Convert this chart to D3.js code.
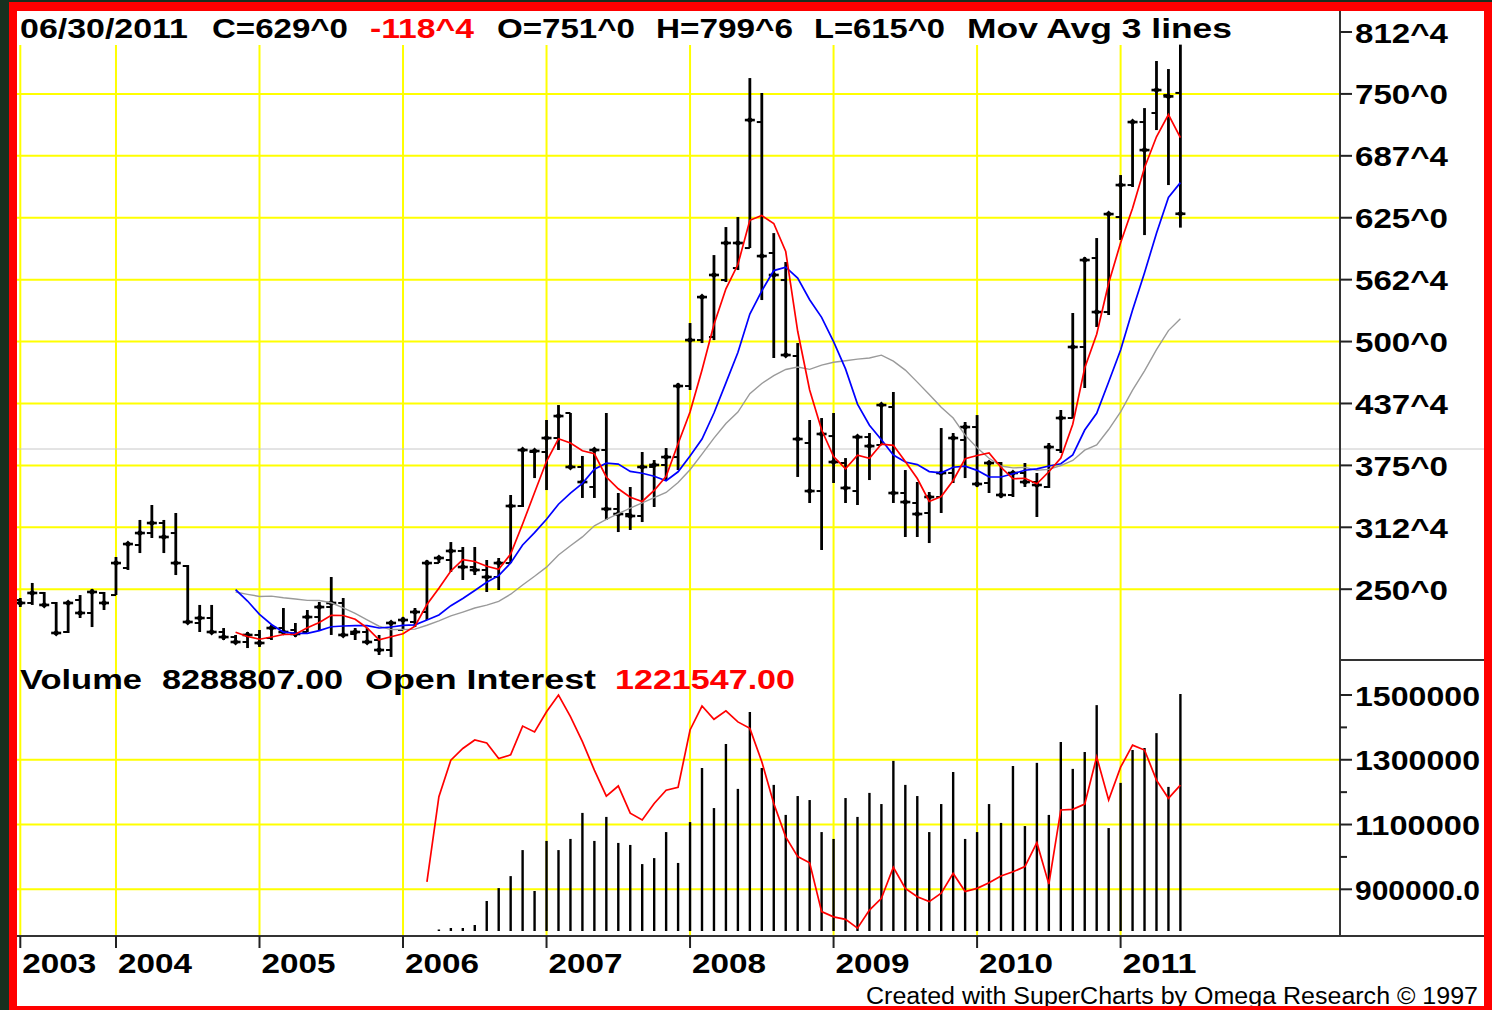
<!DOCTYPE html>
<html>
<head>
<meta charset="utf-8">
<script src="https://cdn.jsdelivr.net/npm/d3@7"></script>
<style>
html, body { margin: 0; padding: 0; background: #17301f; }
svg { display: block; }
text { font-family: "Liberation Sans", Arial, sans-serif; }
</style>
</head>
<body>
<svg id="chart" width="1492" height="1010"></svg>
<script>

// monthly bars, May 2003 .. Jun 2011
var months = d3.timeMonth.range(new Date(2003, 4, 1), new Date(2011, 6, 1));

var opens = [239.1,236.1,246.2,236.1,206.8,239.1,226.0,246.2,244.1,271.4,
	294.6,306.7,316.8,306.7,273.4,215.9,220.9,206.8,201.7,196.7,
	203.8,200.7,210.8,208.8,206.8,221.9,232.0,236.1,204.8,206.8,
	198.7,188.6,208.8,216.9,227.0,276.4,279.5,288.6,272.4,269.4,
	262.3,276.4,334.0,388.5,388.5,402.6,427.9,373.4,353.2,390.5,
	331.0,325.9,323.9,373.4,375.4,383.4,455.1,501.5,504.6,562.1,
	574.2,594.4,721.6,589.4,562.1,485.4,397.6,349.1,404.6,377.4,
	349.1,403.6,395.6,433.9,347.1,337.0,326.9,343.1,367.3,400.6,
	413.7,357.2,377.4,345.1,367.3,358.2,353.2,390.5,422.8,494.5,
	584.3,529.8,625.7,658.0,721.6,730.7,748.8,751.0];

var highs = [241.1,256.3,247.2,237.1,236.1,244.1,250.2,247.2,282.5,296.6,
	319.9,335.0,319.9,326.9,274.4,234.1,234.1,210.8,203.8,206.8,
	208.8,213.9,231.0,215.9,229.0,237.1,262.3,241.1,210.8,210.8,
	203.8,216.9,222.0,231.0,279.5,283.5,297.6,292.6,292.6,279.5,
	281.5,345.1,390.5,390.5,420.8,435.9,427.9,384.5,392.5,427.9,
	347.1,353.2,388.5,380.4,392.5,458.1,518.7,545.0,587.3,615.6,
	625.7,766.0,750.9,609.5,580.3,498.5,420.8,422.8,427.9,382.4,
	405.6,407.7,437.9,449.1,370.3,358.2,348.1,412.7,407.7,418.8,
	425.8,378.4,378.4,368.3,377.4,367.3,397.6,430.9,528.8,585.3,
	604.5,629.7,668.1,723.6,735.7,783.2,775.1,799.75];

var lows = [232.0,234.1,232.0,203.8,205.8,220.9,211.8,229.0,244.1,269.4,
	286.5,301.7,286.5,264.3,215.9,206.8,206.8,198.7,195.7,190.6,
	191.7,198.7,203.8,201.7,206.8,208.8,203.8,203.8,198.7,195.7,
	183.6,181.6,208.8,211.8,218.9,276.4,267.4,259.3,264.3,247.2,
	249.2,276.4,333.0,362.2,350.1,390.5,372.3,342.1,342.1,319.9,
	307.7,309.8,317.8,333.0,360.2,370.3,451.1,498.5,501.5,560.1,
	572.2,594.4,541.9,483.4,485.4,363.3,337.0,289.6,357.2,337.0,
	335.0,360.2,395.6,337.0,302.7,302.7,296.6,326.9,357.2,362.2,
	353.2,347.1,342.1,343.1,353.2,322.9,352.2,387.5,422.8,453.1,
	514.7,526.8,602.5,656.0,607.5,713.5,658.0,615.0];

var closes = [236.1,246.2,234.1,205.8,236.1,226.0,247.2,236.1,276.4,295.6,
	306.7,316.8,302.7,276.4,216.9,220.9,206.8,201.7,196.7,203.8,
	195.7,210.8,206.8,204.8,221.9,232.0,236.1,203.8,206.8,196.7,
	188.6,215.9,218.9,227.0,276.4,281.5,288.6,272.4,269.4,262.3,
	276.4,334.0,390.5,389.5,402.6,424.8,373.4,358.2,390.5,331.0,
	325.9,323.9,373.4,375.4,383.4,455.1,501.5,544.9,567.2,599.5,
	599.5,723.6,586.3,567.2,486.4,401.6,349.1,406.7,378.4,352.2,
	403.6,394.5,435.9,347.1,338.0,325.9,343.1,367.3,402.6,413.7,
	356.2,377.4,345.1,367.3,358.2,355.2,393.5,422.8,494.5,582.3,
	529.8,628.7,658.0,721.6,693.3,753.9,747.5,629.0];

// volume starts Apr 2006 (bar 35), open interest starts Mar 2006 (bar 34)
var VOLUME_FIRST = 35;
var volumes = [35000,105000,105000,210000,1050000,1500000,1920000,2830000,1400000,3150000,
	2830000,3220000,4130000,3150000,3990000,3080000,3010000,2340000,2550000,3460000,
	2380000,3810000,5700000,4300000,6540000,4970000,7660000,5700000,5110000,4060000,
	4720000,4580000,3460000,3220000,4650000,3990000,4830000,4440000,5950000,5110000,
	4720000,3460000,4440000,5560000,3220000,3460000,4440000,3780000,5770000,3670000,
	5880000,4060000,6610000,5670000,6260000,7900000,3600000,5180000,6330000,6400000,
	6920000,5040000,8288807];

var OI_FIRST = 34;
var openInterest = [923000,1186000,1299000,1335000,1361000,1352000,1304000,1315000,1404000,1386000,
	1448000,1500000,1433000,1356000,1268000,1188000,1219000,1135000,1114000,1165000,
	1206000,1215000,1392000,1466000,1425000,1451000,1417000,1397000,1294000,1165000,
	1062000,1001000,982000,831000,815000,807000,780000,836000,872000,968000,
	903000,877000,862000,888000,949000,893000,903000,920000,941000,954000,
	970000,1044000,916000,1145000,1147000,1163000,1309000,1176000,1277000,1345000,
	1330000,1237000,1181000,1221547];

var priceTicks = [250, 312.5, 375, 437.5, 500, 562.5, 625, 687.5, 750, 812.5];
var oiTicks = [900000, 1100000, 1300000, 1500000];
var oiTickLabels = ["900000.0", "1100000", "1300000", "1500000"]; // as much as fits the frame
var oiMinorTicks = [1000000, 1200000, 1400000];

var MA_LENGTHS = [18, 9, 4];
var MA_COLORS = ["#9a9a9a", "#0000ff", "#ff0000"];
var MA_START = 18;

var W = 1492, H = 1010;
var PLOT_RIGHT = 1340, INNER_LEFT = 17, INNER_RIGHT = 1484;
var AXIS_Y = 936, PANEL_SPLIT = 660;
var YELLOW = "#ffff00";

var svg = d3.select("#chart");

// ---- frame
svg.append("rect").attr("width", W).attr("height", H).attr("fill", "#17301f");
svg.append("rect").attr("x", 9).attr("y", 2).attr("width", W - 9).attr("height", H - 2).attr("fill", "#ff0000");
svg.append("rect").attr("x", INNER_LEFT).attr("y", 11)
	.attr("width", INNER_RIGHT - INNER_LEFT).attr("height", 995).attr("fill", "#ffffff");

svg.append("clipPath").attr("id", "inner")
	.append("rect").attr("x", INNER_LEFT).attr("y", 11)
	.attr("width", INNER_RIGHT - INNER_LEFT).attr("height", 995);

var g = svg.append("g").attr("clip-path", "url(#inner)");

// ---- scales
var x = d3.scaleLinear().domain([0, months.length - 1]).range([20.3, 1180.4]);
var y = d3.scaleLinear().domain([250, 812.5]).range([589.2, 32]);
var yOI = d3.scaleLinear().domain([900000, 1500000]).range([889.3, 695]);
var yVol = d3.scaleLinear().domain([0, d3.max(volumes)]).range([931, 694]);

function fmt8(p) {
	var sign = p < 0 ? "-" : "";
	var a = Math.abs(p);
	var whole = Math.floor(a);
	var e = Math.round((a - whole) * 8);
	if(e === 8) { whole += 1; e = 0; }
	return sign + whole + "^" + e;
}

var yearTicks = [];
months.forEach(function(m, i) {
	if(i === 0 || m.getMonth() === 0) {
		yearTicks.push({i: i, label: m.getFullYear()});
	}
});

// ---- grid
var grid = g.append("g");
grid.selectAll("line.v").data(yearTicks).enter().append("line")
	.attr("x1", function(d) { return x(d.i); }).attr("x2", function(d) { return x(d.i); })
	.attr("y1", 45).attr("y2", AXIS_Y)
	.attr("stroke", YELLOW).attr("stroke-width", 2);

grid.selectAll("line.h").data(priceTicks.filter(function(p) { return p < 800; })).enter().append("line")
	.attr("x1", INNER_LEFT).attr("x2", PLOT_RIGHT)
	.attr("y1", function(d) { return y(d); }).attr("y2", function(d) { return y(d); })
	.attr("stroke", YELLOW).attr("stroke-width", 2);

grid.selectAll("line.hv").data(oiTicks.filter(function(v) { return v < 1500000; })).enter().append("line")
	.attr("x1", INNER_LEFT).attr("x2", PLOT_RIGHT)
	.attr("y1", function(d) { return yOI(d); }).attr("y2", function(d) { return yOI(d); })
	.attr("stroke", YELLOW).attr("stroke-width", 2);

// thin grey reference line
g.append("line").attr("x1", INNER_LEFT).attr("x2", INNER_RIGHT)
	.attr("y1", 449).attr("y2", 449)
	.attr("stroke", "#c8c8c8").attr("stroke-width", 1);

// ---- axes
g.append("line").attr("x1", PLOT_RIGHT).attr("x2", PLOT_RIGHT).attr("y1", 11).attr("y2", AXIS_Y)
	.attr("stroke", "#333").attr("stroke-width", 2);
g.append("line").attr("x1", INNER_LEFT).attr("x2", INNER_RIGHT).attr("y1", AXIS_Y).attr("y2", AXIS_Y)
	.attr("stroke", "#333").attr("stroke-width", 2);
g.append("line").attr("x1", PLOT_RIGHT).attr("x2", INNER_RIGHT).attr("y1", PANEL_SPLIT).attr("y2", PANEL_SPLIT)
	.attr("stroke", "#333").attr("stroke-width", 2);

var pAxis = g.append("g").style("font-weight", "bold");
pAxis.selectAll("line").data(priceTicks).enter().append("line")
	.attr("x1", PLOT_RIGHT).attr("x2", PLOT_RIGHT + 12)
	.attr("y1", function(d) { return y(d); }).attr("y2", function(d) { return y(d); })
	.attr("stroke", "#222").attr("stroke-width", 2);
pAxis.selectAll("text").data(priceTicks).enter().append("text")
	.attr("x", 1355).attr("y", function(d) { return y(d) + 10.5; })
	.attr("font-size", 28).attr("textLength", 93).attr("lengthAdjust", "spacingAndGlyphs")
	.text(fmt8);

var vAxis = g.append("g").style("font-weight", "bold");
vAxis.selectAll("line.major").data(oiTicks).enter().append("line")
	.attr("x1", PLOT_RIGHT).attr("x2", PLOT_RIGHT + 12)
	.attr("y1", function(d) { return yOI(d); }).attr("y2", function(d) { return yOI(d); })
	.attr("stroke", "#222").attr("stroke-width", 2);
vAxis.selectAll("line.minor").data(oiMinorTicks).enter().append("line")
	.attr("x1", PLOT_RIGHT).attr("x2", PLOT_RIGHT + 7)
	.attr("y1", function(d) { return yOI(d); }).attr("y2", function(d) { return yOI(d); })
	.attr("stroke", "#222").attr("stroke-width", 2);
vAxis.selectAll("text").data(oiTicks).enter().append("text")
	.attr("x", 1355).attr("y", function(d) { return yOI(d) + 10.5; })
	.attr("font-size", 28)
	.attr("textLength", 125).attr("lengthAdjust", "spacingAndGlyphs")
	.text(function(d, i) { return oiTickLabels[i]; });

var xAxis = g.append("g").style("font-weight", "bold");
xAxis.selectAll("line").data(yearTicks).enter().append("line")
	.attr("x1", function(d) { return x(d.i); }).attr("x2", function(d) { return x(d.i); })
	.attr("y1", AXIS_Y).attr("y2", AXIS_Y + 12)
	.attr("stroke", "#222").attr("stroke-width", 2);
xAxis.selectAll("text").data(yearTicks).enter().append("text")
	.attr("x", function(d) { return x(d.i) + 2; }).attr("y", 973)
	.attr("font-size", 28).attr("textLength", 74).attr("lengthAdjust", "spacingAndGlyphs")
	.text(function(d) { return d.label; });

// ---- OHLC bars
var bars = g.append("g").attr("stroke", "#000");
var barData = d3.range(months.length);
bars.selectAll("line.hl").data(barData).enter().append("line")
	.attr("x1", function(i) { return x(i); }).attr("x2", function(i) { return x(i); })
	.attr("y1", function(i) { return y(highs[i]); }).attr("y2", function(i) { return y(lows[i]); })
	.attr("stroke-width", 2.8);
bars.selectAll("line.o").data(barData).enter().append("line")
	.attr("x1", function(i) { return x(i) - 5; }).attr("x2", function(i) { return x(i); })
	.attr("y1", function(i) { return y(opens[i]); }).attr("y2", function(i) { return y(opens[i]); })
	.attr("stroke-width", 2);
bars.selectAll("line.c").data(barData).enter().append("line")
	.attr("x1", function(i) { return x(i) - 5; }).attr("x2", function(i) { return x(i) + 5; })
	.attr("y1", function(i) { return y(closes[i]); }).attr("y2", function(i) { return y(closes[i]); })
	.attr("stroke-width", 2.6);
bars.selectAll("path.c").data(barData).enter().append("path")
	.attr("stroke", "none").attr("fill", "#000")
	.attr("d", function(i) {
		var cx = x(i), cy = y(closes[i]);
		return "M" + (cx - 3.5) + "," + cy + "L" + cx + "," + (cy - 3.5) +
			"L" + (cx + 3.5) + "," + cy + "L" + cx + "," + (cy + 3.5) + "Z";
	});

// ---- moving averages of the close
MA_LENGTHS.forEach(function(len, k) {
	var pts = [];
	for(var i = MA_START; i < closes.length; i++) {
		pts.push([i, d3.mean(closes.slice(i - len + 1, i + 1))]);
	}
	g.append("path").datum(pts)
		.attr("fill", "none").attr("stroke", MA_COLORS[k])
		.attr("stroke-width", k === 0 ? 1.4 : 1.7)
		.attr("d", d3.line().x(function(d) { return x(d[0]); }).y(function(d) { return y(d[1]); }));
});

// ---- volume bars
g.append("g").selectAll("line").data(volumes).enter().append("line")
	.attr("x1", function(d, i) { return x(i + VOLUME_FIRST); })
	.attr("x2", function(d, i) { return x(i + VOLUME_FIRST); })
	.attr("y1", yVol(0)).attr("y2", function(d) { return Math.min(yVol(d), yVol(0) - 1.5); })
	.attr("stroke", "#000").attr("stroke-width", 2.4);

// ---- open interest
g.append("path").datum(openInterest)
	.attr("fill", "none").attr("stroke", "#ff0000").attr("stroke-width", 1.7)
	.attr("d", d3.line().x(function(d, i) { return x(i + OI_FIRST); }).y(function(d) { return yOI(d); }));

// ---- header texts
var last = closes.length - 1;
var header = [
	{t: d3.timeFormat("%m/%d/%Y")(new Date(2011, 5, 30)), x: 20, w: 168, c: "#000"},
	{t: "C=" + fmt8(closes[last]), x: 212, w: 136, c: "#000"},
	{t: fmt8(closes[last] - closes[last - 1]), x: 370, w: 104, c: "#ff0000"},
	{t: "O=" + fmt8(opens[last]), x: 497, w: 138, c: "#000"},
	{t: "H=" + fmt8(highs[last]), x: 656, w: 137, c: "#000"},
	{t: "L=" + fmt8(lows[last]), x: 814, w: 131, c: "#000"},
	{t: "Mov Avg 3 lines", x: 967, w: 265, c: "#000"}
];
var volHeader = [
	{t: "Volume", x: 20, w: 122, c: "#000"},
	{t: volumes[volumes.length - 1].toFixed(2), x: 162, w: 181, c: "#000"},
	{t: "Open Interest", x: 365, w: 231, c: "#000"},
	{t: openInterest[openInterest.length - 1].toFixed(2), x: 615, w: 180, c: "#ff0000"}
];

function drawLabels(items, baseline) {
	g.append("g").style("font-weight", "bold")
		.selectAll("text").data(items).enter().append("text")
		.attr("x", function(d) { return d.x; }).attr("y", baseline)
		.attr("fill", function(d) { return d.c; })
		.attr("font-size", 28)
		.attr("textLength", function(d) { return d.w; }).attr("lengthAdjust", "spacingAndGlyphs")
		.text(function(d) { return d.t; });
}
drawLabels(header, 38);
drawLabels(volHeader, 689);

g.append("text").attr("x", 866).attr("y", 1004)
	.attr("font-size", 23).style("font-weight", "normal")
	.attr("textLength", 612).attr("lengthAdjust", "spacingAndGlyphs")
	.text("Created with SuperCharts by Omega Research \u00a9 1997");

</script>
</body>
</html>
